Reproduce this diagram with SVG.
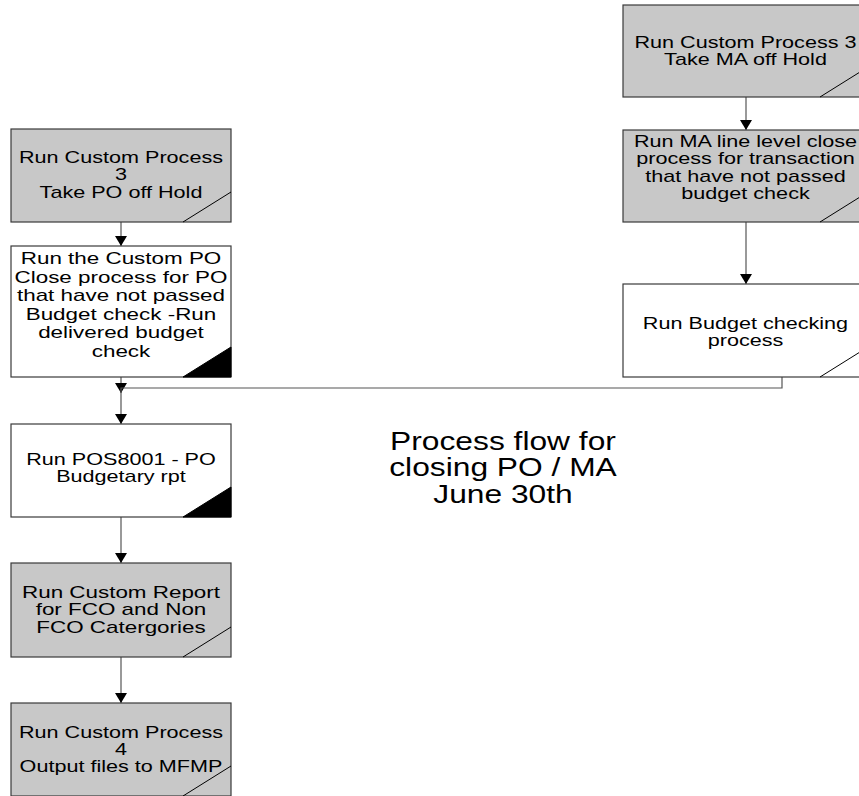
<svg xmlns="http://www.w3.org/2000/svg" width="859" height="796" viewBox="0 0 859 796">
<defs>
<style>
.box{stroke:#3a3a3a;stroke-width:1.2}
.g{fill:#c8c8c8}
.w{fill:#ffffff}
.diag{fill:none;stroke:#000;stroke-width:1}
.tri{fill:#000;stroke:#000;stroke-width:1}
.t{font-family:"Liberation Sans",Arial,sans-serif;font-size:16px;fill:#000;text-anchor:middle}
.tl{font-family:"Liberation Sans",Arial,sans-serif;font-size:16.6px;fill:#000;text-anchor:middle}
.title{font-family:"Liberation Sans",Arial,sans-serif;font-size:25px;fill:#000;text-anchor:middle}
.c{fill:none;stroke:#555;stroke-width:1.2}
</style>
<marker id="ah" viewBox="0 0 10 12" refX="10" refY="6" markerWidth="10" markerHeight="12" markerUnits="userSpaceOnUse" orient="auto">
<path d="M0,0 L10,6 L0,12 Z" fill="#000"/>
</marker>
</defs>
<rect width="859" height="796" fill="#fff"/>

<g id="connectors">
<path class="c" d="M121 222 V246" marker-end="url(#ah)"/>
<path class="c" d="M121 377 V393" marker-end="url(#ah)"/>
<path class="c" d="M782 377 V388 H121 V424" marker-end="url(#ah)"/>
<path class="c" d="M121 517 V563" marker-end="url(#ah)"/>
<path class="c" d="M121 657 V703" marker-end="url(#ah)"/>
<path class="c" d="M746 97 V130" marker-end="url(#ah)"/>
<path class="c" d="M746 222 V284" marker-end="url(#ah)"/>
</g>

<g id="node-po-hold">
<rect class="box g" x="11" y="129" width="220" height="93"/>
<path class="diag" d="M183 222 L231 192"/>
<g transform="translate(121 0) scale(1.35 1)">
<text class="t" x="0" y="163">Run Custom Process</text>
<text class="t" x="0" y="180.5">3</text>
<text class="t" x="0" y="198">Take PO off Hold</text>
</g>
</g>

<g id="node-po-close">
<rect class="box w" x="11" y="246" width="220" height="131"/>
<path class="tri" d="M183 377 L231 347 L231 377 Z"/>
<g transform="translate(121 0) scale(1.35 1)">
<text class="tl" x="0" y="264.5">Run the Custom PO</text>
<text class="tl" x="0" y="283">Close process for PO</text>
<text class="tl" x="0" y="301.5">that have not passed</text>
<text class="tl" x="0" y="320">Budget check -Run</text>
<text class="tl" x="0" y="338.5">delivered budget</text>
<text class="tl" x="0" y="357">check</text>
</g>
</g>

<g id="node-pos8001">
<rect class="box w" x="11" y="424" width="220" height="93"/>
<path class="tri" d="M183 517 L231 487 L231 517 Z"/>
<g transform="translate(121 0) scale(1.35 1)">
<text class="t" x="0" y="465">Run POS8001 - PO</text>
<text class="t" x="0" y="482">Budgetary rpt</text>
</g>
</g>

<g id="node-fco-report">
<rect class="box g" x="11" y="563" width="220" height="94"/>
<path class="diag" d="M183 657 L231 627"/>
<g transform="translate(121 0) scale(1.35 1)">
<text class="tl" x="0" y="598">Run Custom Report</text>
<text class="tl" x="0" y="615.5">for FCO and Non</text>
<text class="tl" x="0" y="633">FCO Catergories</text>
</g>
</g>

<g id="node-output-mfmp">
<rect class="box g" x="11" y="703" width="220" height="93"/>
<path class="diag" d="M183 796 L231 766"/>
<g transform="translate(121 0) scale(1.35 1)">
<text class="t" x="0" y="738">Run Custom Process</text>
<text class="t" x="0" y="755">4</text>
<text class="t" x="0" y="772">Output files to MFMP</text>
</g>
</g>

<g id="node-ma-hold">
<rect class="box g" x="623" y="5" width="245" height="92"/>
<path class="diag" d="M820 97 L868 67"/>
<g transform="translate(745.5 0) scale(1.35 1)">
<text class="t" x="0" y="48">Run Custom Process 3</text>
<text class="t" x="0" y="65">Take MA off Hold</text>
</g>
</g>

<g id="node-ma-close">
<rect class="box g" x="623" y="130" width="245" height="92"/>
<path class="diag" d="M820 222 L868 192"/>
<g transform="translate(745.5 0) scale(1.35 1)">
<text class="t" x="0" y="147">Run MA line level close</text>
<text class="t" x="0" y="164.5">process for transaction</text>
<text class="t" x="0" y="182">that have not passed</text>
<text class="t" x="0" y="199.5">budget check</text>
</g>
</g>

<g id="node-budget-check">
<rect class="box w" x="623" y="284" width="245" height="93"/>
<path class="diag" d="M820 377 L868 347"/>
<g transform="translate(745.5 0) scale(1.35 1)">
<text class="t" x="0" y="329">Run Budget checking</text>
<text class="t" x="0" y="346">process</text>
</g>
</g>

<g id="title">
<g transform="translate(503 0) scale(1.27 1)">
<text class="title" x="0" y="450">Process flow for</text>
<text class="title" x="0" y="476.5">closing PO / MA</text>
<text class="title" x="0" y="503">June 30th</text>
</g>
</g>
</svg>
